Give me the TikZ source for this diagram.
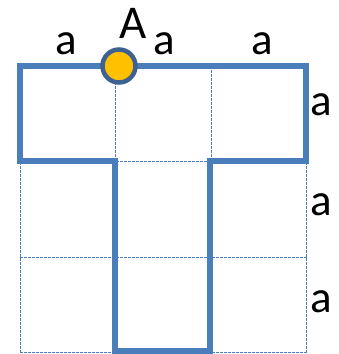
\documentclass[tikz,border=0pt]{standalone}
\usepackage{fontspec}
\setmainfont{Carlito}
\usetikzlibrary{positioning}
\definecolor{tblue}{HTML}{4A7EBB}
\definecolor{tdark}{HTML}{3D6191}
\definecolor{torange}{HTML}{FFC000}
\tikzset{
    gridline/.style={
        draw=tblue,
        line width=0.8pt,
        dash pattern=on 2.5pt off 1.5pt
    },
    tline/.style={
        draw=tblue,
        line width=5.5pt,
        line join=miter
    },
    pointA/.style={
        circle,
        draw=tdark,
        fill=torange,
        line width=4.5pt,
        minimum size=33pt,
        inner sep=0pt
    },
    lenlab/.style={
        inner sep=0pt,
        font=\fontsize{45}{50}\selectfont
    }
}

\begin{document}
\begin{tikzpicture}[x=1pt,y=-1pt]
\useasboundingbox (0,0) rectangle (339,354);
% 3x3 grid
\foreach \i in {0,1,2,3} {
    \draw[gridline] (20+95.5*\i,66) -- (20+95.5*\i,352);
    \draw[gridline] (20,66+95.5*\i) -- (307,66+95.5*\i);
}
% T outline
\draw[tline] (20,66) -- (306,66) -- (306,161) -- (210,161) -- (210,351)
    -- (115,351) -- (115,161) -- (20,161) -- cycle;
\node[pointA] (A) at (119,66) {};
\node[lenlab, font=\fontsize{47}{52}\selectfont] (labA) at (133,23) {A};
\node[lenlab] (a1) at (66,44) {a};
\node[lenlab] (a2) at (164,44) {a};
\node[lenlab] (a3) at (262,44) {a};
\node[lenlab] (a4) at (321,105) {a};
\node[lenlab] (a5) at (321,205) {a};
\node[lenlab] (a6) at (321,302) {a};
\end{tikzpicture}
\end{document}
